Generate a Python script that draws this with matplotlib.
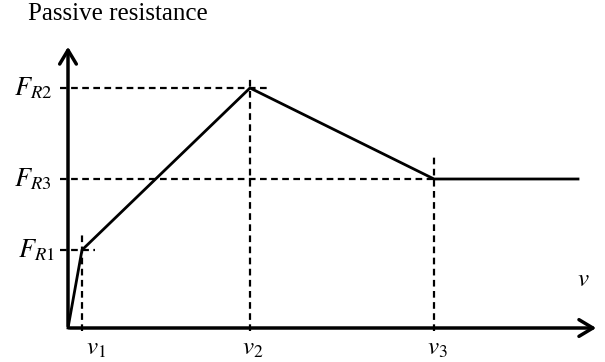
import matplotlib.pyplot as plt

# Data (speed breakpoints and resistance levels, in arbitrary units)
v_labels = [r'$v_1$', r'$v_2$', r'$v_3$']
F_labels = [r'$F_{R1}$', r'$F_{R2}$', r'$F_{R3}$']
v_points = [0, 14, 182, 366, 510]
F_points = [0, 78, 240, 149, 149]
v_marks = [14, 182, 366]
F_marks = [78, 240, 149]

plt.rcParams['mathtext.fontset'] = 'stix'
plt.rcParams['font.family'] = ['Liberation Serif', 'DejaVu Serif']

fig = plt.figure(figsize=(6.05, 3.62), dpi=100)
ax = fig.add_axes([0, 0, 1, 1])
ax.set_xlim(-68, 537)
ax.set_ylim(-34, 328)
ax.axis('off')

# axes arrows
arrow = '->,head_length=1.0,head_width=0.6'
ax.annotate('', xy=(0, 284), xytext=(0, -1),
            arrowprops=dict(arrowstyle=arrow, lw=2.5, color='black'))
ax.annotate('', xy=(531, 0), xytext=(-1, 0),
            arrowprops=dict(arrowstyle=arrow, lw=2.5, color='black'))

dash = dict(color='black', lw=1.6, linestyle=(0, (3, 2)))
# guide lines
ax.plot([-8, 27], [F_marks[0], F_marks[0]], **dash)
ax.plot([v_marks[0], v_marks[0]], [-3, 96], **dash)
ax.plot([-8, 202], [F_marks[1], F_marks[1]], **dash)
ax.plot([v_marks[1], v_marks[1]], [-3, 250], **dash)
ax.plot([-8, v_marks[2]], [F_marks[2], F_marks[2]], **dash)
ax.plot([v_marks[2], v_marks[2]], [-3, 171], **dash)

# resistance curve
ax.plot(v_points, F_points, color='black', lw=2.0, solid_joinstyle='miter')

# labels
for x, lab in zip(v_marks, v_labels):
    ax.text(x + 14 if x == v_marks[0] else x + 3, -21, lab, fontsize=18, ha='center', va='center')
ax.text(-32, F_marks[0], F_labels[0], fontsize=19, ha='center', va='center')
ax.text(-35, F_marks[1], F_labels[1], fontsize=19, ha='center', va='center')
ax.text(-35, F_marks[2], F_labels[2], fontsize=19, ha='center', va='center')
ax.text(515, 48, r'$v$', fontsize=18, ha='center', va='center')
ax.text(-40, 314, 'Passive resistance', fontsize=18, ha='left', va='center')

fig.savefig('out.png', dpi=100)
